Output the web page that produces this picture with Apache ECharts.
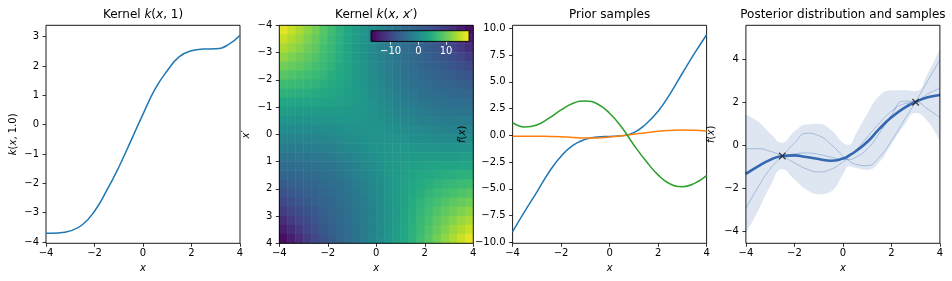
<!DOCTYPE html>
<html><head><meta charset="utf-8">
<script src="https://cdn.jsdelivr.net/npm/echarts@6/dist/echarts.min.js"></script>
<style>html,body{margin:0;padding:0;background:#fff}#c{width:952px;height:281px}</style>
</head><body><div id="c"></div>
<script>
// ---------- data ----------
const xGrid = [-4,-3.5,-3,-2.5,-2,-1.5,-1,-0.5,0,0.5,1,1.5,2,2.5,3,3.5,4];
const kernelSlice = [-3.70,-3.69,-3.62,-3.41,-2.95,-2.25,-1.45,-0.55,0.36,1.22,1.84,2.32,2.52,2.58,2.59,2.72,3.05];

// heatmap cell centres (24 x 24 cells over [-4, 4]) and estimated kernel values, rows = x' from -4 (top) to 4
const heatCenters = [-3.833,-3.5,-3.167,-2.833,-2.5,-2.167,-1.833,-1.5,-1.167,-0.833,-0.5,-0.167,0.167,0.5,0.833,1.167,1.5,1.833,2.167,2.5,2.833,3.167,3.5,3.833];
const kernelMatrix = [
  [16.8,15.3,13.8,12.2,10.6,8.9,7.2,5.6,4.0,2.6,1.2,-0.1,-1.3,-2.4,-3.5,-4.6,-5.7,-6.9,-8.1,-9.5,-10.9,-12.4,-14.1,-15.7],
  [15.3,14.1,12.8,11.4,9.9,8.4,6.8,5.3,3.8,2.4,1.0,-0.3,-1.4,-2.5,-3.5,-4.5,-5.4,-6.4,-7.5,-8.6,-9.8,-11.1,-12.6,-14.1],
  [13.8,12.8,11.7,10.5,9.3,7.9,6.5,5.0,3.6,2.2,0.9,-0.3,-1.5,-2.5,-3.4,-4.3,-5.2,-6.0,-6.9,-7.8,-8.8,-9.9,-11.1,-12.4],
  [12.2,11.4,10.5,9.6,8.5,7.3,6.1,4.8,3.5,2.2,0.9,-0.3,-1.4,-2.4,-3.3,-4.2,-4.9,-5.7,-6.4,-7.1,-7.9,-8.8,-9.8,-10.9],
  [10.6,9.9,9.3,8.5,7.7,6.7,5.7,4.5,3.4,2.2,1.0,-0.2,-1.3,-2.2,-3.1,-3.9,-4.6,-5.3,-5.9,-6.5,-7.1,-7.8,-8.6,-9.5],
  [8.9,8.4,7.9,7.3,6.7,6.0,5.1,4.2,3.2,2.2,1.1,0.0,-1.0,-2.0,-2.8,-3.6,-4.3,-4.9,-5.4,-5.9,-6.4,-6.9,-7.5,-8.1],
  [7.2,6.8,6.5,6.1,5.7,5.1,4.5,3.8,3.0,2.1,1.2,0.2,-0.7,-1.6,-2.5,-3.2,-3.9,-4.4,-4.9,-5.3,-5.7,-6.0,-6.4,-6.9],
  [5.6,5.3,5.0,4.8,4.5,4.2,3.8,3.3,2.7,2.1,1.3,0.5,-0.4,-1.2,-2.0,-2.7,-3.3,-3.9,-4.3,-4.6,-4.9,-5.2,-5.4,-5.7],
  [4.0,3.8,3.6,3.5,3.4,3.2,3.0,2.7,2.4,1.9,1.3,0.7,0.0,-0.7,-1.4,-2.1,-2.7,-3.2,-3.6,-3.9,-4.2,-4.3,-4.5,-4.6],
  [2.6,2.4,2.2,2.2,2.2,2.2,2.1,2.1,1.9,1.7,1.3,0.9,0.3,-0.2,-0.8,-1.4,-2.0,-2.5,-2.8,-3.1,-3.3,-3.4,-3.5,-3.5],
  [1.2,1.0,0.9,0.9,1.0,1.1,1.2,1.3,1.3,1.3,1.2,0.9,0.6,0.2,-0.2,-0.7,-1.2,-1.6,-2.0,-2.2,-2.4,-2.5,-2.5,-2.4],
  [-0.1,-0.3,-0.3,-0.3,-0.2,0.0,0.2,0.5,0.7,0.9,0.9,0.9,0.8,0.6,0.3,0.0,-0.4,-0.7,-1.0,-1.3,-1.4,-1.5,-1.4,-1.3],
  [-1.3,-1.4,-1.5,-1.4,-1.3,-1.0,-0.7,-0.4,0.0,0.3,0.6,0.8,0.9,0.9,0.9,0.7,0.5,0.2,0.0,-0.2,-0.3,-0.3,-0.3,-0.1],
  [-2.4,-2.5,-2.5,-2.4,-2.2,-2.0,-1.6,-1.2,-0.7,-0.2,0.2,0.6,0.9,1.2,1.3,1.3,1.3,1.2,1.1,1.0,0.9,0.9,1.0,1.2],
  [-3.5,-3.5,-3.4,-3.3,-3.1,-2.8,-2.5,-2.0,-1.4,-0.8,-0.2,0.3,0.9,1.3,1.7,1.9,2.1,2.1,2.2,2.2,2.2,2.2,2.4,2.6],
  [-4.6,-4.5,-4.3,-4.2,-3.9,-3.6,-3.2,-2.7,-2.1,-1.4,-0.7,0.0,0.7,1.3,1.9,2.4,2.7,3.0,3.2,3.4,3.5,3.6,3.8,4.0],
  [-5.7,-5.4,-5.2,-4.9,-4.6,-4.3,-3.9,-3.3,-2.7,-2.0,-1.2,-0.4,0.5,1.3,2.1,2.7,3.3,3.8,4.2,4.5,4.8,5.0,5.3,5.6],
  [-6.9,-6.4,-6.0,-5.7,-5.3,-4.9,-4.4,-3.9,-3.2,-2.5,-1.6,-0.7,0.2,1.2,2.1,3.0,3.8,4.5,5.1,5.7,6.1,6.5,6.8,7.2],
  [-8.1,-7.5,-6.9,-6.4,-5.9,-5.4,-4.9,-4.3,-3.6,-2.8,-2.0,-1.0,0.0,1.1,2.2,3.2,4.2,5.1,6.0,6.7,7.3,7.9,8.4,8.9],
  [-9.5,-8.6,-7.8,-7.1,-6.5,-5.9,-5.3,-4.6,-3.9,-3.1,-2.2,-1.3,-0.2,1.0,2.2,3.4,4.5,5.7,6.7,7.7,8.5,9.3,9.9,10.6],
  [-10.9,-9.8,-8.8,-7.9,-7.1,-6.4,-5.7,-4.9,-4.2,-3.3,-2.4,-1.4,-0.3,0.9,2.2,3.5,4.8,6.1,7.3,8.5,9.6,10.5,11.4,12.2],
  [-12.4,-11.1,-9.9,-8.8,-7.8,-6.9,-6.0,-5.2,-4.3,-3.4,-2.5,-1.5,-0.3,0.9,2.2,3.6,5.0,6.5,7.9,9.3,10.5,11.7,12.8,13.8],
  [-14.1,-12.6,-11.1,-9.8,-8.6,-7.5,-6.4,-5.4,-4.5,-3.5,-2.5,-1.4,-0.3,1.0,2.4,3.8,5.3,6.8,8.4,9.9,11.4,12.8,14.1,15.3],
  [-15.7,-14.1,-12.4,-10.9,-9.5,-8.1,-6.9,-5.7,-4.6,-3.5,-2.4,-1.3,-0.1,1.2,2.6,4.0,5.6,7.2,8.9,10.6,12.2,13.8,15.3,16.8]
];
const colorbarMin = -17.1, colorbarMax = 18.3;
const colorbarTicks = [-10, 0, 10];

const priorBlue   = [-9.0,-7.1,-5.3,-3.45,-1.95,-0.92,-0.38,-0.16,-0.10,-0.05,0.25,1.06,2.25,3.9,5.8,7.65,9.4];
const priorOrange = [-0.09,-0.08,-0.08,-0.10,-0.13,-0.20,-0.25,-0.24,-0.15,-0.05,0.10,0.25,0.38,0.46,0.50,0.47,0.40];
const priorGreen  = [1.18,0.78,0.97,1.60,2.37,3.00,3.21,2.93,2.06,0.75,-0.90,-2.40,-3.70,-4.55,-4.80,-4.49,-3.77];

const postX     = [-4,-3.5,-3,-2.5,-2,-1.5,-1,-0.5,0,0.25,0.5,1,1.5,2,2.5,3,3.5,4];
const postMean  = [-1.33,-0.98,-0.68,-0.50,-0.47,-0.55,-0.64,-0.72,-0.62,-0.48,-0.30,0.15,0.76,1.30,1.72,2.02,2.23,2.34];
const postUpper = [1.43,1.10,0.55,0.12,0.65,0.97,1.00,0.72,0.12,0.02,0.45,1.45,2.30,2.55,2.56,2.52,3.35,4.50];
const postLower = [-4.09,-3.06,-1.91,-1.12,-1.59,-2.07,-2.28,-2.16,-1.36,-0.98,-1.05,-1.15,-0.78,0.05,0.88,1.50,1.11,0.18];
const sampleA   = [-0.17,-0.16,-0.28,-0.50,-0.82,-1.10,-1.24,-1.12,-0.78,-0.55,-0.28,0.38,1.02,1.58,1.92,2.02,2.38,2.65];
const sampleB   = [-2.93,-1.95,-1.10,-0.50,0.10,0.56,0.45,0.05,-0.50,-0.72,-0.88,-0.95,-0.55,0.20,1.12,2.02,3.00,3.97];
const sampleC   = [-1.30,-0.95,-0.67,-0.50,-0.40,-0.36,-0.42,-0.55,-0.66,-0.66,-0.58,-0.18,0.55,1.40,2.05,2.02,1.68,1.29];
const obsX = [-2.5, 3];
const obsY = [-0.5, 2];

const ticksK = [-4,-3,-2,-1,0,1,2,3];
const ticksPrior = [-10,-7.5,-5,-2.5,0,2.5,5,7.5,10];
const ticksPost = [-4,-2,0,2,4];

// ---------- helpers ----------
const FONT = 'DejaVu Sans';
const viridis = ['#440154','#482475','#414487','#355f8d','#2a788e','#21918c','#22a884','#44bf70','#7ad151','#bddf26','#fde725'];
const minus = v => (v < 0 ? '\u2212' : '') + Math.abs(v);
const minus1 = v => (v < 0 ? '\u2212' : '') + Math.abs(v).toFixed(1);
const zip = (a, b) => a.map((v, i) => [v, b[i]]);

const TOP = 25.3, H = 218, W = 194;
const lefts = [46, 279.3, 512.6, 745.9];
const grids = lefts.map((l, i) => ({left: l, top: TOP, width: W, height: H, show: true,
  borderColor: '#000', borderWidth: 0.9, backgroundColor: 'transparent', z: (i === 1 || i === 3) ? 10 : 0}));
grids.push({left: 371, top: 30.7, width: 98, height: 10.7, show: false});

const tick = (custom) => ({show: true, length: 3.5, lineStyle: {color: '#000', width: 0.8}, customValues: custom});
const lab = (fmt, custom, margin) => ({show: true, color: '#000', fontSize: 10, fontFamily: FONT, formatter: fmt, customValues: custom, margin: margin});
function valueX(gi, min, max, custom) {
  return {type: 'value', gridIndex: gi, min, max, position: 'bottom', z: 20,
    axisLine: {show: false, onZero: false}, splitLine: {show: false},
    axisTick: tick(custom), axisLabel: lab(minus, custom, 5)};
}
function valueY(gi, min, max, custom, fmt, inverse) {
  return {type: 'value', gridIndex: gi, min, max, inverse: !!inverse, position: 'left', z: 20,
    axisLine: {show: false, onZero: false}, splitLine: {show: false},
    axisTick: tick(custom), axisLabel: lab(fmt, custom, 7)};
}
const hiddenCat = (gi, data, inverse) => ({type: 'category', gridIndex: gi, data, inverse: !!inverse,
  axisLine: {show: false, onZero: false}, axisTick: {show: false}, axisLabel: {show: false}, splitLine: {show: false}});

const xAxis = [
  valueX(0, -4, 4, [-4,-2,0,2,4]),
  hiddenCat(1, heatCenters),
  valueX(1, -4, 4, [-4,-2,0,2,4]),
  valueX(2, -4, 4, [-4,-2,0,2,4]),
  valueX(3, -4, 4, [-4,-2,0,2,4]),
  {type: 'value', gridIndex: 4, min: colorbarMin, max: colorbarMax, position: 'bottom', z: 50,
    axisLine: {show: false, onZero: false}, splitLine: {show: false},
    axisTick: {show: true, length: 3.5, lineStyle: {color: '#fff', width: 0.8}, customValues: colorbarTicks},
    axisLabel: {show: true, color: '#fff', fontSize: 10, fontFamily: FONT, formatter: minus, customValues: colorbarTicks, margin: 5}}
];
const yAxis = [
  valueY(0, -4.044, 3.39, ticksK, minus),
  hiddenCat(1, heatCenters, true),
  valueY(1, -4, 4, [-4,-3,-2,-1,0,1,2,3,4], minus, true),
  valueY(2, -10.09, 10.28, ticksPrior, minus1),
  valueY(3, -4.56, 5.58, ticksPost, minus),
  {type: 'value', gridIndex: 4, min: 0, max: 1, show: false}
];

const heatData = [];
kernelMatrix.forEach((row, i) => row.forEach((v, j) => heatData.push([j, i, v])));

const line = (xi, xs, ys, color, width, extra) => Object.assign({type: 'line', xAxisIndex: xi, yAxisIndex: xi,
  data: zip(xs, ys), symbol: 'none', smooth: 0.5, silent: true,
  lineStyle: {color, width}}, extra || {});

const sampleColor = 'rgba(53,104,176,0.42)';
const series = [
  line(0, xGrid, kernelSlice, '#1f77b4', 1.5),
  {type: 'heatmap', xAxisIndex: 1, yAxisIndex: 1, data: heatData, silent: true, emphasis: {disabled: true}},
  line(3, xGrid, priorBlue, '#1f77b4', 1.5),
  line(3, xGrid, priorOrange, '#ff7f0e', 1.5),
  line(3, xGrid, priorGreen, '#2ca02c', 1.5),
  // band: upper edge filled down to the axis, then the region below the lower edge painted back to white
  line(4, postX, postUpper, 'rgba(0,0,0,0)', 0, {lineStyle: {opacity: 0}, areaStyle: {color: '#dee6f2', opacity: 1, origin: 'start'}}),
  line(4, postX, postLower, 'rgba(0,0,0,0)', 0, {lineStyle: {opacity: 0}, areaStyle: {color: '#ffffff', opacity: 1, origin: 'start'}}),
  line(4, postX, sampleA, sampleColor, 0.8),
  line(4, postX, sampleB, sampleColor, 0.8),
  line(4, postX, sampleC, sampleColor, 0.8),
  line(4, postX, postMean, '#3568b0', 2.6),
  {type: 'scatter', xAxisIndex: 4, yAxisIndex: 4, data: zip(obsX, obsY), silent: true,
    symbol: 'path://M0,0L10,10M10,0L0,10', symbolSize: 6.5,
    itemStyle: {color: 'transparent', borderColor: '#222', borderWidth: 1.4}, z: 5},
  {type: 'line', xAxisIndex: 2, yAxisIndex: 2, data: []},
  {type: 'line', xAxisIndex: 5, yAxisIndex: 5, data: []}
];

// ---------- texts ----------
function rt(text, x, y, size, rot) {
  return {type: 'text', x, y, rotation: rot || 0, z: 100, silent: true,
    style: {text, textAlign: 'center', textVerticalAlign: 'middle', fill: '#000',
      rich: {r: {fontSize: size, fontFamily: FONT, fill: '#000'},
             i: {fontSize: size, fontFamily: FONT, fontStyle: 'italic', fill: '#000'}}}};
}
const cx = lefts.map(l => l + W / 2);
const midY = TOP + H / 2;
const graphic = [
  rt('{r|Kernel }{i|k}{r|(}{i|x}{r|, 1)}', cx[0], 15.3, 12),
  rt('{r|Kernel }{i|k}{r|(}{i|x}{r|, }{i|x}{r|\u2032)}', cx[1], 15.3, 12),
  rt('{r|Prior samples}', cx[2], 15.3, 12),
  rt('{r|Posterior distribution and samples}', cx[3], 15.3, 12),
  rt('{i|x}', cx[0], 268, 10), rt('{i|x}', cx[1], 268, 10), rt('{i|x}', cx[2], 268, 10), rt('{i|x}', cx[3], 268, 10),
  rt('{i|k}{r|(}{i|x}{r|, 1.0)}', 13.3, midY, 10, Math.PI / 2),
  rt('{i|x}{r|\u2032}', 246, midY, 10, Math.PI / 2),
  rt('{i|f}{r|(}{i|x}{r|)}', 462.7, midY, 10, Math.PI / 2),
  rt('{i|f}{r|(}{i|x}{r|)}', 711, midY, 10, Math.PI / 2),
  {type: 'rect', z: 90, silent: true, shape: {x: 371, y: 30.7, width: 98, height: 10.7},
    style: {fill: new echarts.graphic.LinearGradient(0, 0, 1, 0,
      viridis.map((c, i) => ({offset: i / (viridis.length - 1), color: c}))), stroke: '#000', lineWidth: 0.9}}
];

const chart = echarts.init(document.getElementById('c'), null, {renderer: 'canvas'});
chart.setOption({
  animation: false,
  backgroundColor: '#fff',
  grid: grids, xAxis, yAxis, series, graphic,
  visualMap: {type: 'continuous', show: false, seriesIndex: 1, dimension: 2,
    min: colorbarMin, max: colorbarMax, inRange: {color: viridis}}
});
</script></body></html>
